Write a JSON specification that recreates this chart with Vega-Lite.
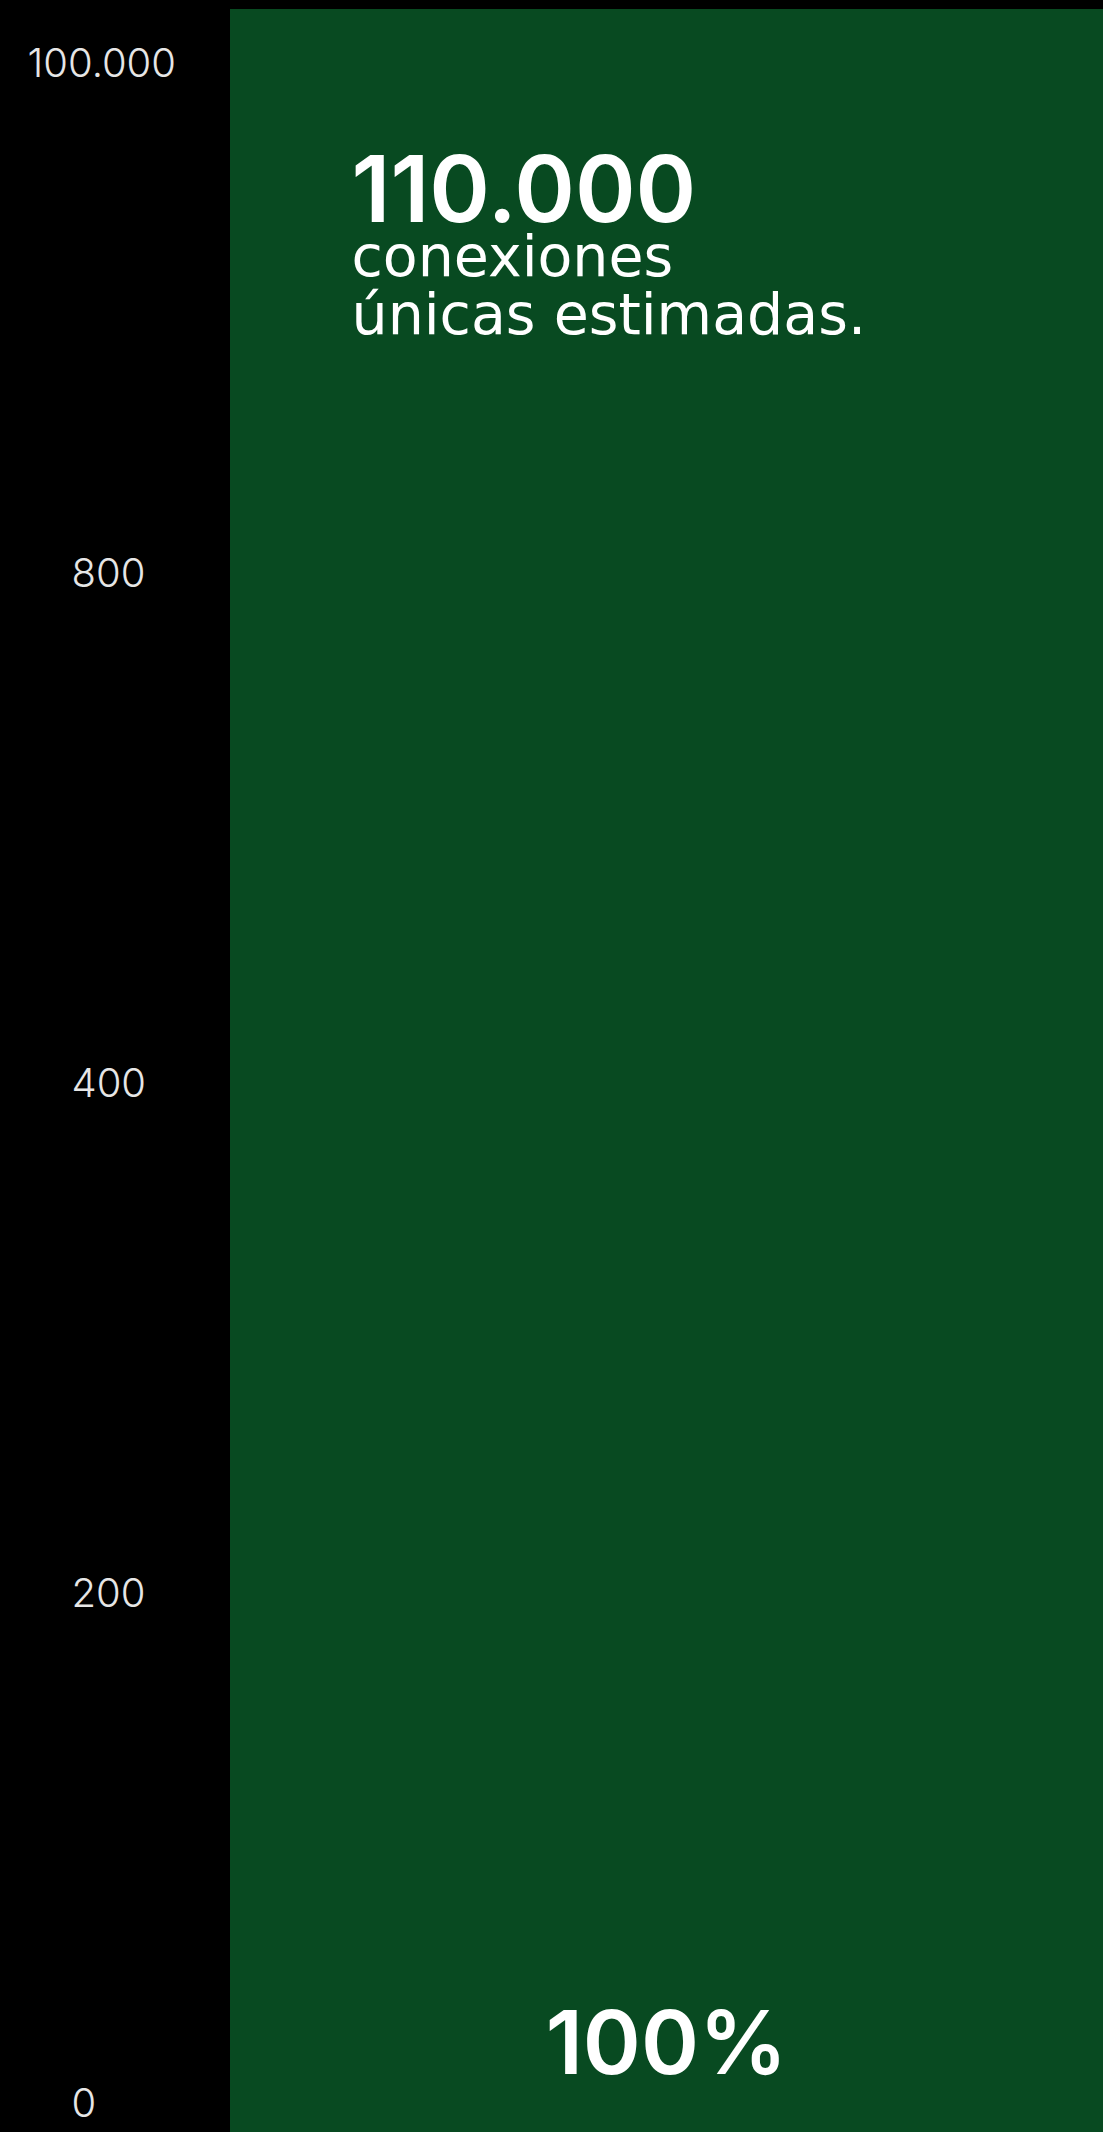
{
  "$schema": "https://vega.github.io/schema/vega-lite/v6.json",
  "autosize": {"type": "none"},
  "width": 873,
  "height": 2123,
  "padding": {"left": 230, "top": 9, "right": 0, "bottom": 0},
  "background": "#000000",
  "config": {"view": {"stroke": null}},
  "data": {"values": [
    {"total": "110.000", "desc": ["conexiones", "únicas estimadas."], "share": "100%", "top": 4.108, "bottom": -0.053}
  ]},
  "layer": [
    {
      "mark": {"type": "rect", "color": "#084a21"},
      "encoding": {
        "y": {"field": "top", "type": "quantitative",
          "scale": {"domain": [-0.053, 4.108], "nice": false, "zero": false},
          "axis": {
            "title": null,
            "values": [0, 1, 2, 3, 4],
            "labelExpr": "['0','200','400','800','100.000'][datum.value]",
            "domain": false,
            "ticks": false,
            "tickSize": 0,
            "grid": false,
            "labelAlign": "left",
            "labelBaseline": "middle",
            "labelPadding": {"condition": {"test": "datum.value == 4", "value": 203}, "value": 159},
            "labelFont": "Inter",
            "labelFontWeight": 300,
            "labelFontSize": 40,
            "labelColor": "#e6e6e6",
            "labelFlush": false,
            "labelOverlap": false
          }
        },
        "y2": {"field": "bottom"}
      }
    },
    {
      "mark": {"type": "text", "align": "left", "baseline": "alphabetic", "font": "Inter", "fontWeight": 600, "fontSize": 92, "color": "#ffffff", "dx": -315, "dy": 213},
      "encoding": {
        "y": {"field": "top", "type": "quantitative"},
        "text": {"field": "total"}
      }
    },
    {
      "mark": {"type": "text", "align": "left", "baseline": "alphabetic", "font": "DejaVu Sans", "fontWeight": "normal", "fontSize": 57, "lineHeight": 58, "color": "#ffffff", "dx": -315, "dy": 267},
      "encoding": {
        "y": {"field": "top", "type": "quantitative"},
        "text": {"field": "desc"}
      }
    },
    {
      "mark": {"type": "text", "align": "center", "baseline": "alphabetic", "font": "Inter", "fontWeight": 600, "fontSize": 88, "color": "#ffffff", "dy": -58},
      "encoding": {
        "y": {"field": "bottom", "type": "quantitative"},
        "text": {"field": "share"}
      }
    }
  ]
}
